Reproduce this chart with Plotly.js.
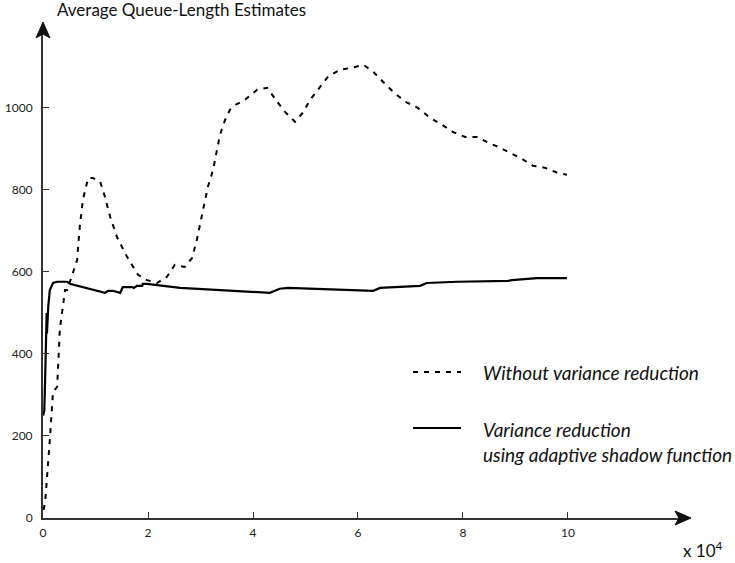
<!DOCTYPE html>
<html>
<head>
<meta charset="utf-8">
<script src="https://cdn.plot.ly/plotly-3.0.1.min.js"></script>
<style>html,body{margin:0;padding:0;background:#fff;}#chart{width:735px;height:563px;}</style>
</head>
<body>
<div id="chart"></div>
<script>
// x values in units of 10^4
const dashedX = [0.01,0.04,0.13,0.19,0.27,0.32,0.42,0.46,0.57,0.65,0.70,0.76,0.86,0.95,1.09,1.18,1.28,1.41,1.60,1.81,1.98,2.17,2.36,2.51,2.70,2.84,2.93,3.05,3.14,3.24,3.31,3.37,3.47,3.56,3.66,3.85,4.08,4.27,4.46,4.61,4.80,4.95,5.09,5.24,5.43,5.66,5.89,6.10,6.29,6.48,6.67,6.90,7.14,7.37,7.60,7.81,8.04,8.27,8.48,8.67,8.90,9.12,9.33,9.56,9.81,9.98];
const dashedY = [20,37,190,307,320,459,556,556,598,629,710,776,829,829,820,783,734,685,637,593,580,573,588,617,612,634,678,751,807,849,898,934,971,995,1007,1020,1044,1049,1015,990,966,988,1020,1044,1076,1093,1098,1105,1088,1063,1039,1015,1000,976,959,941,929,929,915,905,890,876,859,854,841,837];

const solidX = [0.005,0.025,0.04,0.05,0.06,0.07,0.075,0.085,0.10,0.13,0.19,0.27,0.32,0.46,0.51,1.18,1.24,1.33,1.47,1.52,1.70,1.73,1.79,1.89,1.90,1.98,2.61,4.32,4.51,4.67,6.29,6.42,7.18,7.31,7.89,8.86,8.93,9.22,9.41,9.98];
const solidY = [250,263,337,410,451,500,450,505,515,556,573,576,576,576,571,549,554,554,549,563,563,561,566,566,571,571,561,549,559,561,554,561,566,573,576,578,580,583,585,585];

const xTicks = [0,2,4,6,8,10];
const yTicks = [0,200,400,600,800,1000];
const seriesNames = ['Without variance reduction', 'Variance reduction<br>using adaptive shadow function'];

const FONT = 'Lato, "Open Sans", sans-serif';
const DASH = '5px,6px';

// plot area in pixels: left 43, right 688, top 25, bottom 518
const px = v => (v - 43) / 645;
const py = v => (518 - v) / 493;
const pt = (a, b) => px(a) + ',' + py(b);

const traces = [
  {x: dashedX, y: dashedY, type: 'scatter', mode: 'lines', name: seriesNames[0],
   line: {color: '#000', width: 2, dash: DASH}},
  {x: solidX, y: solidY, type: 'scatter', mode: 'lines', name: seriesNames[1],
   line: {color: '#000', width: 2.2}}
];

const layout = {
  width: 735, height: 563,
  margin: {l: 43, r: 47, t: 25, b: 45},
  paper_bgcolor: '#fff', plot_bgcolor: '#fff',
  font: {family: FONT, color: '#222', size: 12},
  showlegend: false,
  title: {text: 'Average Queue-Length Estimates', x: 57/735, xanchor: 'left', xref: 'container',
          y: 1 - 10/563, yanchor: 'middle', yref: 'container', font: {size: 17, family: FONT, color: '#111'}},
  xaxis: {range: [0, 12.286], showgrid: false, zeroline: false, showline: true, linecolor: '#333', linewidth: 2,
          ticks: 'inside', ticklen: 6, tickwidth: 1, tickcolor: '#333', tickvals: xTicks, ticktext: xTicks.map(String),
          tickfont: {size: 12, family: FONT, color: '#222'}, ticklabelstandoff: 3, fixedrange: true},
  yaxis: {range: [0, 1202], showgrid: false, zeroline: false, showline: true, linecolor: '#333', linewidth: 2,
          ticks: 'inside', ticklen: 6, tickwidth: 1, tickcolor: '#333', tickvals: yTicks, ticktext: yTicks.map(String),
          tickfont: {size: 12, family: FONT, color: '#222'}, ticklabelstandoff: 6, fixedrange: true},
  shapes: [
    {type: 'line', xref: 'paper', yref: 'paper', x0: px(413), x1: px(461), y0: py(372), y1: py(372),
     line: {color: '#000', width: 2, dash: DASH}},
    {type: 'line', xref: 'paper', yref: 'paper', x0: px(413), x1: px(461), y0: py(428), y1: py(428),
     line: {color: '#000', width: 2}},
    // axis arrowheads
    {type: 'path', xref: 'paper', yref: 'paper', layer: 'above',
     path: 'M' + pt(691, 518) + 'L' + pt(675, 511) + 'L' + pt(679, 518) + 'L' + pt(675, 525) + 'Z',
     fillcolor: '#111', line: {color: '#111', width: 1}},
    {type: 'path', xref: 'paper', yref: 'paper', layer: 'above',
     path: 'M' + pt(43, 22) + 'L' + pt(36, 38) + 'L' + pt(43, 34) + 'L' + pt(50, 38) + 'Z',
     fillcolor: '#111', line: {color: '#111', width: 1}}
  ],
  annotations: [
    {xref: 'paper', yref: 'paper', x: px(681), y: py(549), xanchor: 'left', yanchor: 'middle',
     text: 'x 10<sup>4</sup>', showarrow: false, font: {size: 17, family: FONT, color: '#111'}},
    {xref: 'paper', yref: 'paper', x: px(481), y: py(372), xanchor: 'left', yanchor: 'middle', align: 'left',
     text: seriesNames[0], showarrow: false, font: {size: 19, family: FONT, color: '#111', style: 'italic'}},
    {xref: 'paper', yref: 'paper', x: px(481), y: py(416), xanchor: 'left', yanchor: 'top', align: 'left',
     text: seriesNames[1], showarrow: false, font: {size: 19, family: FONT, color: '#111', style: 'italic'}}
  ]
};

Plotly.newPlot('chart', traces, layout, {displayModeBar: false, staticPlot: true});
</script>
</body>
</html>
